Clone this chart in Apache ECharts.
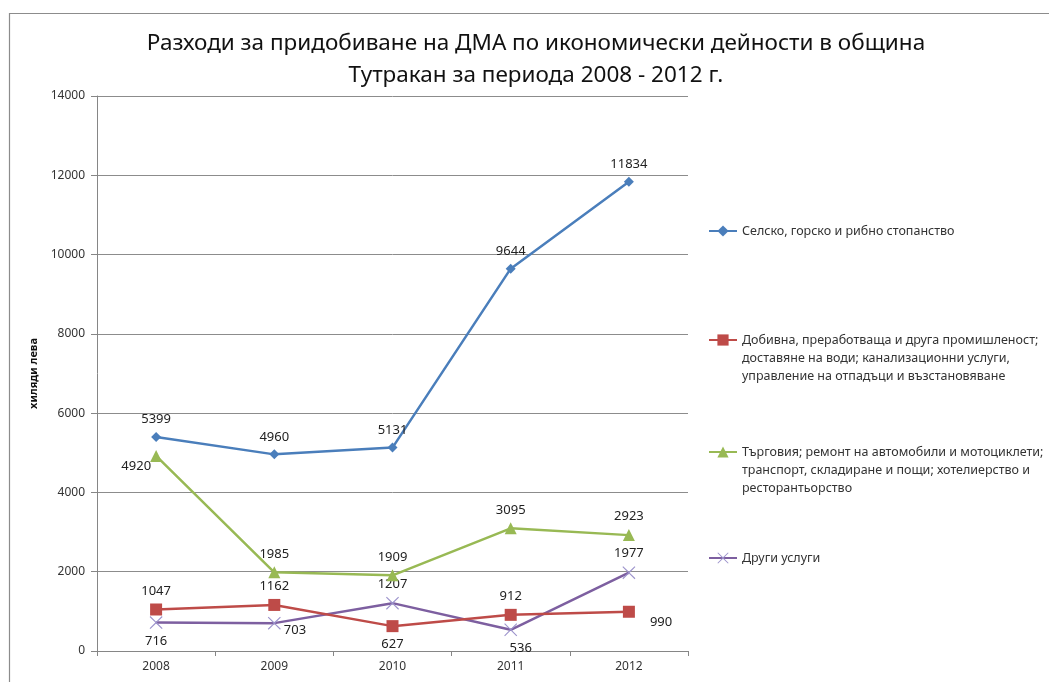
<!DOCTYPE html>
<html>
<head>
    <meta charset="UTF-8">
    <title>Разходи за придобиване на ДМА</title>
    <script src="https://cdn.jsdelivr.net/npm/echarts@6/dist/echarts.min.js"></script>
    <style>
        html, body { margin: 0; padding: 0; background: #fff; }
        #main { width: 1049px; height: 682px; }
    </style>
</head>
<body>
<div id="main"></div>
<script type="text/javascript">
    // данни от графиката
    var years = ['2008', '2009', '2010', '2011', '2012'];
    var seriesNames = [
        'Селско, горско и рибно стопанство',
        'Добивна, преработваща и друга промишленост; доставяне на води; канализационни услуги, управление на отпадъци и възстановяване',
        'Търговия; ремонт на автомобили и мотоциклети; транспорт, складиране и пощи; хотелиерство и ресторантьорство',
        'Други услуги'
    ];
    var agriculture = [5399, 4960, 5131, 9644, 11834];
    var industry = [1047, 1162, 627, 912, 990];
    var trade = [4920, 1985, 1909, 3095, 2923];
    var otherServices = [716, 703, 1207, 536, 1977];
    var yTicks = [0, 2000, 4000, 6000, 8000, 10000, 12000, 14000];

    // текст на легендата, разделен на редове
    var legendLines = [
        ['Селско, горско и рибно стопанство'],
        ['Добивна, преработваща и друга промишленост;', 'доставяне на води; канализационни услуги,', 'управление на отпадъци и възстановяване'],
        ['Търговия; ремонт на автомобили и мотоциклети;', 'транспорт, складиране и пощи; хотелиерство и', 'ресторантьорство'],
        ['Други услуги']
    ];
    var legendY = [231, 340, 452, 558];

    // къде стои етикетът спрямо точката
    var lblTop = {position: 'top', distance: 6};
    var lblBottom = {position: 'bottom', distance: 6};
    var labelPlacement = [
        [lblTop, lblTop, lblTop, lblTop, lblTop],
        [lblTop, lblTop, lblBottom, lblTop, {position: 'right', offset: [10, 11]}],
        [{position: 'left', offset: [6, 10]}, lblTop, lblTop, lblTop, lblTop],
        [lblBottom, {position: 'right', offset: [-2, 7]}, lblTop, {position: 'bottom', distance: 6, offset: [10, 0]}, lblTop]
    ];

    var colors = ['#4A7EBB', '#BE4B48', '#98B954', '#7D5FA0'];
    var markerColors = ['#4A7EBB', '#BE4B48', '#98B954', '#9C93CC'];
    var symbols = [
        'diamond',
        'rect',
        'triangle',
        'path://M0,0.6 L0.6,0 L5,4.4 L9.4,0 L10,0.6 L5.6,5 L10,9.4 L9.4,10 L5,5.6 L0.6,10 L0,9.4 L4.4,5 Z'
    ];
    var symbolSizes = [10, 12, 12, 13];
    var values = [agriculture, industry, trade, otherServices];
    var font = '"Noto Sans", "DejaVu Sans", sans-serif';

    var myChart = echarts.init(document.getElementById('main'));

    var series = values.map(function (vals, i) {
        return {
            name: seriesNames[i],
            type: 'line',
            data: vals.map(function (v, j) {
                return {value: v, label: labelPlacement[i][j]};
            }),
            symbol: symbols[i],
            symbolSize: symbolSizes[i],
            lineStyle: {width: 2.5, color: colors[i]},
            itemStyle: {color: markerColors[i]},
            label: {
                show: true,
                color: '#222',
                fontSize: 13,
                fontFamily: font
            },
            z: 10 - i
        };
    });

    // празни редове отгоре, за да е иконата срещу първия ред
    var legends = seriesNames.map(function (name, i) {
        var n = legendLines[i].length;
        var pad = [];
        for (var k = 1; k < n; k++) pad.push('');
        return {
            data: [name],
            left: 708,
            top: legendY[i] - 9 - (n - 1) * 18,
            padding: 0,
            itemWidth: 28,
            itemHeight: 14,
            selectedMode: false,
            formatter: function () {
                return pad.concat(legendLines[i]).join('\n');
            },
            textStyle: {
                fontSize: 12.5,
                color: '#333',
                fontFamily: font,
                lineHeight: 18
            }
        };
    });

    var option = {
        backgroundColor: '#fff',
        animation: false,
        title: {
            text: 'Разходи за придобиване на ДМА по икономически дейности в община\nТутракан за периода 2008 - 2012 г.',
            left: 531,
            top: 23,
            textAlign: 'center',
            textStyle: {
                fontSize: 22.5,
                fontWeight: 'normal',
                color: '#111',
                fontFamily: font,
                lineHeight: 32
            }
        },
        legend: legends,
        graphic: [{
            type: 'rect',
            left: 7,
            top: 11,
            shape: {width: 1100, height: 700},
            style: {fill: 'none', stroke: '#8c8c8c', lineWidth: 1.2},
            z: -1
        }],
        grid: {
            left: 97,
            right: 361,
            top: 96,
            bottom: 31
        },
        xAxis: {
            type: 'category',
            data: years,
            boundaryGap: true,
            axisLine: {lineStyle: {color: '#868686'}},
            axisTick: {show: true, length: 5, lineStyle: {color: '#868686'}},
            axisLabel: {color: '#333', fontSize: 12, fontFamily: font, margin: 10}
        },
        yAxis: {
            type: 'value',
            min: yTicks[0],
            max: yTicks[yTicks.length - 1],
            interval: yTicks[1] - yTicks[0],
            name: 'хиляди лева',
            nameLocation: 'middle',
            nameGap: 48,
            nameRotate: 90,
            nameTextStyle: {
                fontSize: 11,
                fontWeight: 'bold',
                color: '#111',
                fontFamily: font
            },
            axisLine: {show: true, lineStyle: {color: '#868686'}},
            axisTick: {show: true, length: 6, lineStyle: {color: '#868686'}},
            axisLabel: {
                color: '#333',
                fontSize: 12,
                fontFamily: font,
                margin: 12,
                formatter: function (v) { return String(v); }
            },
            splitLine: {lineStyle: {color: '#8c8c8c', width: 1}}
        },
        series: series
    };

    myChart.setOption(option);
</script>
</body>
</html>
